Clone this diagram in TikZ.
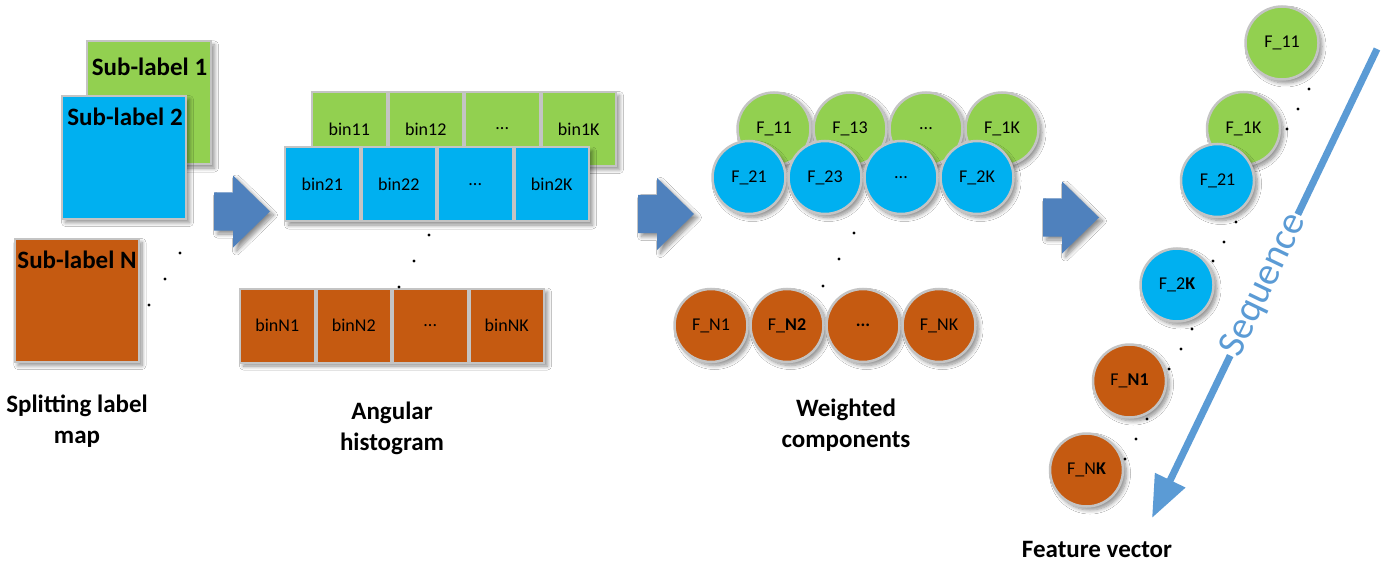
\documentclass[tikz,border=0pt]{standalone}
\usepackage{fontspec}
\setmainfont{Carlito}
\usetikzlibrary{shadows.blur,arrows.meta}

\definecolor{labgreen}{HTML}{92D050}
\definecolor{labblue}{HTML}{00B0F0}
\definecolor{laborange}{HTML}{C55A11}
\definecolor{edgegray}{HTML}{C4C4C4}
\definecolor{arrowblue}{HTML}{4F81BD}
\definecolor{seqblue}{HTML}{5B9BD5}

\begin{document}
\begin{tikzpicture}[x=1pt,y=-1pt,
  softshadow/.style={blur shadow={shadow xshift=3.5pt,shadow yshift=-3.5pt,
      shadow blur radius=4pt,shadow blur steps=8,shadow opacity=45}},
  square/.style={draw=edgegray,line width=2pt,minimum width=124pt,
      minimum height=123pt,inner sep=0pt,softshadow},
  sublabel/.style={font=\fontsize{25}{30}\selectfont\bfseries,inner sep=0pt},
  rowbox/.style={draw=edgegray,line width=2pt,minimum width=304pt,
      minimum height=74pt,inner sep=0pt,softshadow},
  cell/.style={draw=edgegray,line width=2pt,minimum width=74.5pt,
      minimum height=74pt,inner sep=0pt,font=\fontsize{18}{20}\selectfont},
  comp/.style={circle,draw=edgegray,line width=2.5pt,minimum size=73pt,
      inner sep=0pt,font=\fontsize{18}{20}\selectfont,softshadow},
  gdot/.style={fill=black},
  caption/.style={font=\fontsize{25}{31}\selectfont\bfseries,align=center,inner sep=0pt},
  seqline/.style={draw=seqblue,line width=7pt},
  seqtext/.style={text=seqblue,font=\fontsize{39}{40}\selectfont,inner xsep=1pt,inner ysep=0pt},
  blockarrow/.pic={
    \path[fill=arrowblue,softshadow] (-28,-19) -- (-9,-19) -- (-9,-36) -- (28,0)
      -- (-9,36) -- (-9,19) -- (-28,19) -- cycle;}
]
\path[use as bounding box,fill=white] (0,0) rectangle (1389,564);

% ---- splitting label map ----
\node[square,fill=labgreen]  (s1) at (149,103)   {};
\node[sublabel] (s1t) at (149.5,67) {Sub-label 1};
\node[square,fill=labblue]   (s2) at (124,157.5) {};
\node[sublabel] (s2t) at (125,117) {Sub-label 2};
\node[square,fill=laborange] (s3) at (76.5,300.5) {};
\node[sublabel] (s3t) at (77,260) {Sub-label N};
\foreach \p in {(180,253),(165,279),(149,305)} \fill[gdot] \p circle (1.7);

% ---- angular histogram ----
\node[rowbox,fill=labgreen] (r1) at (464,129) {};
\node[cell,fill=labgreen] (b11) at (349.25,129) {bin11};
\node[cell,fill=labgreen] (b12) at (425.75,129) {bin12};
\node[cell,fill=labgreen] (b13) at (502.25,129) {...};
\node[cell,fill=labgreen] (b1K) at (578.75,129) {bin1K};

\node[rowbox,fill=labblue] (r2) at (437,184.5) {};
\node[cell,fill=labblue] (b21) at (322.25,184.5) {bin21};
\node[cell,fill=labblue] (b22) at (398.75,184.5) {bin22};
\node[cell,fill=labblue] (b23) at (475.25,184.5) {...};
\node[cell,fill=labblue] (b2K) at (551.75,184.5) {bin2K};

\node[rowbox,fill=laborange] (rN) at (392,325.5) {};
\node[cell,fill=laborange] (bN1) at (277.25,325.5) {binN1};
\node[cell,fill=laborange] (bN2) at (353.75,325.5) {binN2};
\node[cell,fill=laborange] (bN3) at (430.25,325.5) {...};
\node[cell,fill=laborange] (bNK) at (506.75,325.5) {binNK};
\foreach \p in {(429,235),(414,261),(399,287)} \fill[gdot] \p circle (1.7);

% ---- weighted components ----
\node[comp,fill=labgreen] (c11) at (774,129) {F\_11};
\node[comp,fill=labgreen] (c13) at (850,129) {F\_13};
\node[comp,fill=labgreen] (c1d) at (926,129) {...};
\node[comp,fill=labgreen] (c1K) at (1002,129) {F\_1K};

\node[comp,fill=labblue] (c21) at (749,177.5) {F\_21};
\node[comp,fill=labblue] (c23) at (825,177.5) {F\_23};
\node[comp,fill=labblue] (c2d) at (901,177.5) {...};
\node[comp,fill=labblue] (c2K) at (977,177.5) {F\_2K};

\node[comp,fill=laborange] (cN1) at (711,325.5) {F\_N1};
\node[comp,fill=laborange] (cN2) at (787,325.5) {F\_\textbf{N2}};
\node[comp,fill=laborange] (cNd) at (863,325.5) {\textbf{...}};
\node[comp,fill=laborange] (cNK) at (939,325.5) {F\_NK};
\foreach \p in {(854,233),(839,259),(823,286)} \fill[gdot] \p circle (1.7);

% ---- feature vector ----
\node[comp,fill=labgreen]  (v11) at (1282,43)      {F\_11};
\node[comp,fill=labgreen]  (v1K) at (1243.5,128.5) {F\_1K};
\node[comp,fill=labblue]   (v21) at (1217.5,180.5) {F\_21};
\node[comp,fill=labblue]   (v2K) at (1177,285)     {F\_2\textbf{K}};
\node[comp,fill=laborange] (vN1) at (1129.5,381)   {F\_\textbf{N1}};
\node[comp,fill=laborange] (vNK) at (1086.5,470)   {F\_N\textbf{K}};
\foreach \p in {(1309,89),(1298,109),(1287,129),
                (1236,222),(1224,242),(1213,261),
                (1192,329),(1181,349),(1169,369),
                (1147,419),(1136,439),(1125,459)} \fill[gdot] \p circle (1.7);

% ---- sequence arrow ----
\coordinate (qtop) at (1377,49);
\coordinate (qtip) at (1152,518);
\node[seqtext,rotate=64.4] (seq) at (1264,285) {Sequence};
\draw[seqline] (qtop) -- (seq.east);
\draw[seqline,-{Triangle[width=32pt,length=42pt]}] (seq.west) -- (qtip);

% ---- block arrows between stages ----
\pic (a1) at (242,211.5) {blockarrow};
\pic (a2) at (666,214)   {blockarrow};
\pic (a3) at (1071,217.5) {blockarrow};

% ---- captions ----
\node[caption] (cap1) at (77,421)   {Splitting label\\map};
\node[caption] (cap2) at (392,428)  {Angular\\histogram};
\node[caption] (cap3) at (846,425.5) {Weighted\\components};
\node[caption] (cap4) at (1097,549) {Feature vector};
\end{tikzpicture}
\end{document}
